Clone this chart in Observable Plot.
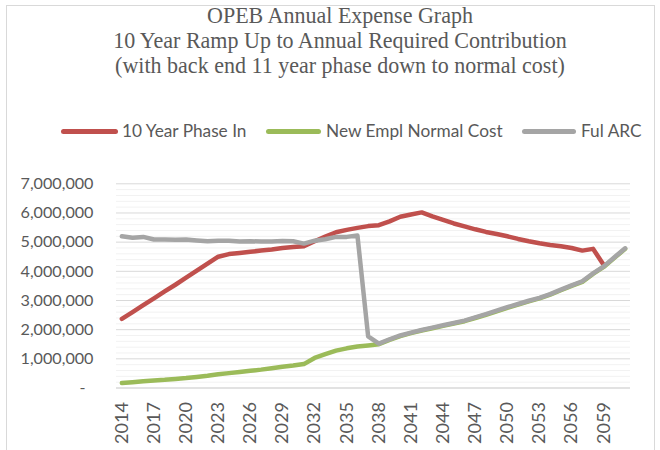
<!DOCTYPE html>
<html><head><meta charset="utf-8">
<script src="https://cdn.jsdelivr.net/npm/d3@7"></script>
<script src="https://cdn.jsdelivr.net/npm/@observablehq/plot@0.6"></script>
<style>
body{margin:0;background:#fff;}
#wrap{position:relative;width:660px;height:450px;overflow:hidden;color:#595959;background:#fff;}
#frame{position:absolute;left:6px;top:5px;width:649px;height:480px;border:1px solid #d9d9d9;box-sizing:border-box;pointer-events:none;}
#title{position:relative;height:110px;width:680px;text-align:center;font-family:"Liberation Serif",serif;color:#595959;padding-top:3px;box-sizing:border-box;}
#title div{line-height:25px;white-space:nowrap;}
#legend{position:relative;height:42px;width:660px;}
.sw{position:absolute;top:19px;height:5px;border-radius:3px;}
.lt{position:absolute;top:0;line-height:42px;white-space:nowrap;color:#595959;}
#plot{position:relative;height:298px;}
</style></head>
<body>
<div id="wrap">
<div id="title"></div>
<div id="legend"></div>
<div id="plot"></div>
<div id="frame"></div>
</div>
<script>
const titleLines = ["OPEB Annual Expense Graph","10 Year Ramp Up to Annual Required Contribution","(with back end 11 year phase down to normal cost)"];
const seriesNames = ["10 Year Phase In","New Empl Normal Cost","Ful ARC"];
const seriesColors = ["#c0504d","#9bbb59","#a5a5a5"];

const years = [2014,2015,2016,2017,2018,2019,2020,2021,2022,2023,2024,2025,2026,2027,2028,2029,2030,2031,2032,2033,2034,2035,2036,2037,2038,2039,2040,2041,2042,2043,2044,2045,2046,2047,2048,2049,2050,2051,2052,2053,2054,2055,2056,2057,2058,2059,2060,2061];

// 10 Year Phase In (2014-2059)
const phaseIn = [2370000,2600000,2840000,3070000,3310000,3540000,3780000,4020000,4260000,4500000,4590000,4630000,4670000,4710000,4750000,4800000,4830000,4860000,5030000,5190000,5340000,5420000,5490000,5550000,5580000,5710000,5870000,5950000,6020000,5880000,5760000,5640000,5540000,5440000,5350000,5280000,5200000,5110000,5030000,4960000,4900000,4860000,4800000,4710000,4770000,4220000];
// New Empl Normal Cost (2014-2061)
const normalCost = [170000,200000,230000,260000,280000,310000,340000,380000,420000,470000,510000,550000,590000,630000,680000,730000,770000,820000,1030000,1160000,1280000,1360000,1420000,1460000,1500000,1650000,1780000,1880000,1970000,2050000,2130000,2210000,2290000,2400000,2510000,2630000,2750000,2860000,2970000,3070000,3200000,3350000,3500000,3640000,3910000,4150000,4460000,4770000];
// Ful ARC (2014-2061)
const fullArc = [5200000,5150000,5180000,5090000,5090000,5080000,5090000,5060000,5030000,5050000,5050000,5020000,5030000,5020000,5020000,5040000,5030000,4950000,5050000,5100000,5180000,5180000,5230000,1770000,1520000,1670000,1800000,1900000,1990000,2070000,2150000,2230000,2310000,2420000,2530000,2650000,2770000,2880000,2990000,3090000,3220000,3370000,3520000,3660000,3930000,4170000,4480000,4790000];

const yTicks = [0,1000000,2000000,3000000,4000000,5000000,6000000,7000000];
const xTicks = [2014,2017,2020,2023,2026,2029,2032,2035,2038,2041,2044,2047,2050,2053,2056,2059];

// font fitting helpers
const cv = document.createElement("canvas").getContext("2d");
function fit(text, family, target){
  cv.font = `100px ${family}`;
  return 100 * target / cv.measureText(text).width;
}
const sansFam = "Lato";
const titleSize = fit(titleLines[1], '"Liberation Serif"', 456);
const legendSize = fit(seriesNames[1], sansFam, 177);
const ySize = fit("7,000,000", sansFam, 73);
const xSize = fit("2014", sansFam, 42);

// title
const tEl = document.getElementById("title");
tEl.style.fontSize = titleSize + "px";
titleLines.forEach(t => { const d = document.createElement("div"); d.textContent = t; tEl.appendChild(d); });

// legend
const lg = document.getElementById("legend");
const swX = [61, 266, 522], swW = [57, 55, 54], txX = [122, 326, 581];
seriesNames.forEach((n, i) => {
  const s = document.createElement("div"); s.className = "sw";
  s.style.left = swX[i] + "px"; s.style.width = swW[i] + "px"; s.style.background = seriesColors[i];
  lg.appendChild(s);
  const t = document.createElement("div"); t.className = "lt";
  t.style.left = txX[i] + "px"; t.style.fontFamily = sansFam; t.style.fontSize = legendSize + "px";
  t.textContent = n; lg.appendChild(t);
});

const toRows = vals => vals.map((v, i) => ({year: years[i], value: v}));
const minor = d3.range(200000, 7000000, 200000).filter(v => v % 1000000 !== 0);

const chart = Plot.plot({
  width: 660, height: 298,
  marginLeft: 116, marginRight: 30, marginTop: 31.3, marginBottom: 62.5,
  style: {fontFamily: sansFam, color: "#595959", background: "#fff", overflow: "visible"},
  x: {type: "linear", domain: [2013.5, 2061.5]},
  y: {domain: [0, 7000000]},
  marks: [
    Plot.ruleY(minor, {stroke: "#f2f2f2", strokeWidth: 1}),
    Plot.ruleY(yTicks.filter(v => v > 0), {stroke: "#d9d9d9", strokeWidth: 1}),
    Plot.ruleY([0], {stroke: "#d9d9d9", strokeWidth: 1.6}),
    Plot.axisY({ticks: yTicks, tickSize: 0, tickPadding: 23, label: null, fontSize: ySize,
      tickFormat: d => d === 0 ? "-\u2002" : d3.format(",")(d)}),
    Plot.axisX({ticks: xTicks, tickSize: 0, tickPadding: 14, tickRotate: -90, label: null, fontSize: xSize,
      tickFormat: d => String(d)}),
    Plot.line(toRows(phaseIn), {x: "year", y: "value", stroke: seriesColors[0], strokeWidth: 4.5, strokeLinecap: "round", strokeLinejoin: "round"}),
    Plot.line(toRows(normalCost), {x: "year", y: "value", stroke: seriesColors[1], strokeWidth: 4.5, strokeLinecap: "round", strokeLinejoin: "round"}),
    Plot.line(toRows(fullArc), {x: "year", y: "value", stroke: seriesColors[2], strokeWidth: 4.5, strokeLinecap: "round", strokeLinejoin: "round"})
  ]
});
document.getElementById("plot").appendChild(chart);
</script>
</body></html>
